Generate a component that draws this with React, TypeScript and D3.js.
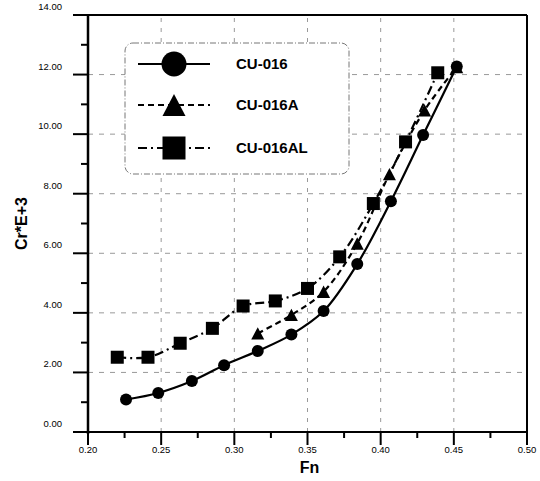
import React from 'react'
import * as d3 from 'd3'

// values
const fnCU016 = [0.226, 0.248, 0.271, 0.293, 0.316, 0.339, 0.361, 0.384, 0.407, 0.429, 0.452]
const crCU016 = [1.09, 1.31, 1.71, 2.24, 2.72, 3.27, 4.06, 5.64, 7.75, 9.97, 12.27]

const fnCU016A = [0.316, 0.339, 0.361, 0.384, 0.406, 0.43, 0.452]
const crCU016A = [3.31, 3.93, 4.71, 6.33, 8.66, 10.8, 12.25]

const fnCU016AL = [0.22, 0.241, 0.263, 0.285, 0.306, 0.328, 0.35, 0.372, 0.395, 0.417, 0.439]
const crCU016AL = [2.51, 2.51, 2.98, 3.48, 4.23, 4.4, 4.82, 5.88, 7.67, 9.74, 12.06]

const seriesNames = ['CU-016', 'CU-016A', 'CU-016AL']
const xTicks = [0.2, 0.25, 0.3, 0.35, 0.4, 0.45, 0.5]
const yTicks = [0, 2, 4, 6, 8, 10, 12, 14]

const W = 540
const H = 481
const margin = { top: 15, right: 13, bottom: 49, left: 88 }

const x = d3.scaleLinear().domain([0.2, 0.5]).range([margin.left, W - margin.right])
const y = d3.scaleLinear().domain([0, 14]).range([H - margin.bottom, margin.top])

const series = [
  { name: seriesNames[0], xs: fnCU016, ys: crCU016, dash: null, marker: 'circle' },
  { name: seriesNames[1], xs: fnCU016A, ys: crCU016A, dash: '6,4', marker: 'triangle' },
  { name: seriesNames[2], xs: fnCU016AL, ys: crCU016AL, dash: '9,4,2,4', marker: 'square' }
]

const line = d3.line<[number, number]>()
  .x(d => x(d[0]))
  .y(d => y(d[1]))
  .curve(d3.curveCatmullRom)

function Marker({ kind, cx, cy, s }: { kind: string, cx: number, cy: number, s: number }) {
  if (kind === 'circle') return <circle cx={cx} cy={cy} r={s / 2} fill='#000' />
  if (kind === 'square') return <rect x={cx - s / 2} y={cy - s / 2} width={s} height={s} fill='#000' />
  const h = s * 0.95
  return <path d={`M${cx},${cy - h / 2}L${cx + s / 2},${cy + h / 2}L${cx - s / 2},${cy + h / 2}Z`} fill='#000' />
}

export default function App() {
  const x0 = x(0.2), x1 = x(0.5), y0 = y(0), y1 = y(14)
  const minorX = d3.range(0.225, 0.5, 0.05)
  const minorY = d3.range(1, 14, 2)
  const font = 'Arial, "Liberation Sans", sans-serif'
  const sizes: Record<string, number> = { circle: 12, triangle: 13, square: 13 }

  return (
    <svg width={W} height={H} style={{ position: 'absolute', left: 0, top: 0, background: '#fff' }} fontFamily={font}>
      <rect width={W} height={H} fill='#fff' />
      {/* grid */}
      {xTicks.slice(1, -1).map(t => (
        <line key={'gx' + t} x1={x(t)} x2={x(t)} y1={y0} y2={y1} stroke='#999' strokeWidth={1} strokeDasharray='4,6' />
      ))}
      {yTicks.slice(1, -1).map(t => (
        <line key={'gy' + t} x1={x0} x2={x1} y1={y(t)} y2={y(t)} stroke='#999' strokeWidth={1} strokeDasharray='5,6' />
      ))}

      {/* frame */}
      <line x1={x0 - 15} x2={x1} y1={y1} y2={y1} stroke='#000' strokeWidth={2} />
      <line x1={x1} x2={x1} y1={y1} y2={y0} stroke='#000' strokeWidth={2} />
      <line x1={x0} x2={x0} y1={y1} y2={y0 + 2} stroke='#000' strokeWidth={2.5} />
      <line x1={x0 - 15} x2={x1} y1={y0} y2={y0} stroke='#000' strokeWidth={2} />

      {/* y ticks */}
      {yTicks.map(t => (
        <g key={'yt' + t}>
          <line x1={x0 - 15} x2={x0} y1={y(t)} y2={y(t)} stroke='#000' strokeWidth={2} />
          <text x={x0 - 26} y={y(t) - 5} fontSize={9.5} textAnchor='end'>{t.toFixed(2)}</text>
        </g>
      ))}
      {minorY.map(t => (
        <line key={'ym' + t} x1={x0 - 7} x2={x0} y1={y(t)} y2={y(t)} stroke='#000' strokeWidth={2} />
      ))}

      {/* x ticks */}
      {xTicks.map(t => (
        <g key={'xt' + t}>
          <line x1={x(t)} x2={x(t)} y1={y0} y2={y0 + 13} stroke='#000' strokeWidth={2} />
          <text x={x(t)} y={y0 + 21} fontSize={9.5} textAnchor='middle'>{t.toFixed(2)}</text>
        </g>
      ))}
      {minorX.map(t => (
        <line key={'xm' + t} x1={x(t)} x2={x(t)} y1={y0} y2={y0 + 6} stroke='#000' strokeWidth={2} />
      ))}

      {/* axis titles */}
      <text x={(x0 + x1) / 2 + 2} y={H - 8} fontSize={16} fontWeight='bold' textAnchor='middle'>Fn</text>
      <text transform={`translate(27,${(y0 + y1) / 2}) rotate(-90)`} fontSize={16} fontWeight='bold' textAnchor='middle'>Cr*E+3</text>

      {/* series */}
      {series.map(s => {
        const pts = s.xs.map((v, i) => [v, s.ys[i]] as [number, number])
        return (
          <g key={s.name}>
            <path d={line(pts) || ''} fill='none' stroke='#000' strokeWidth={2.2} strokeDasharray={s.dash || undefined} />
            {pts.map((p, i) => (
              <Marker key={i} kind={s.marker} cx={x(p[0])} cy={y(p[1])} s={sizes[s.marker]} />
            ))}
          </g>
        )
      })}

      {/* legend */}
      <rect x={125} y={43} width={224} height={131} rx={8} fill='#fff' stroke='#777' strokeWidth={1} strokeDasharray='6,2,1,2' />
      {series.map((s, i) => {
        const ly = [64, 105, 148][i]
        return (
          <g key={'lg' + s.name}>
            <line x1={138} x2={210} y1={ly} y2={ly} stroke='#000' strokeWidth={2} strokeDasharray={s.dash || undefined} />
            <Marker kind={s.marker} cx={174} cy={ly} s={s.marker === 'circle' ? 25 : 23} />
            <text x={236} y={ly + 5} fontSize={15} fontWeight='bold'>{s.name}</text>
          </g>
        )
      })}
    </svg>
  )
}
